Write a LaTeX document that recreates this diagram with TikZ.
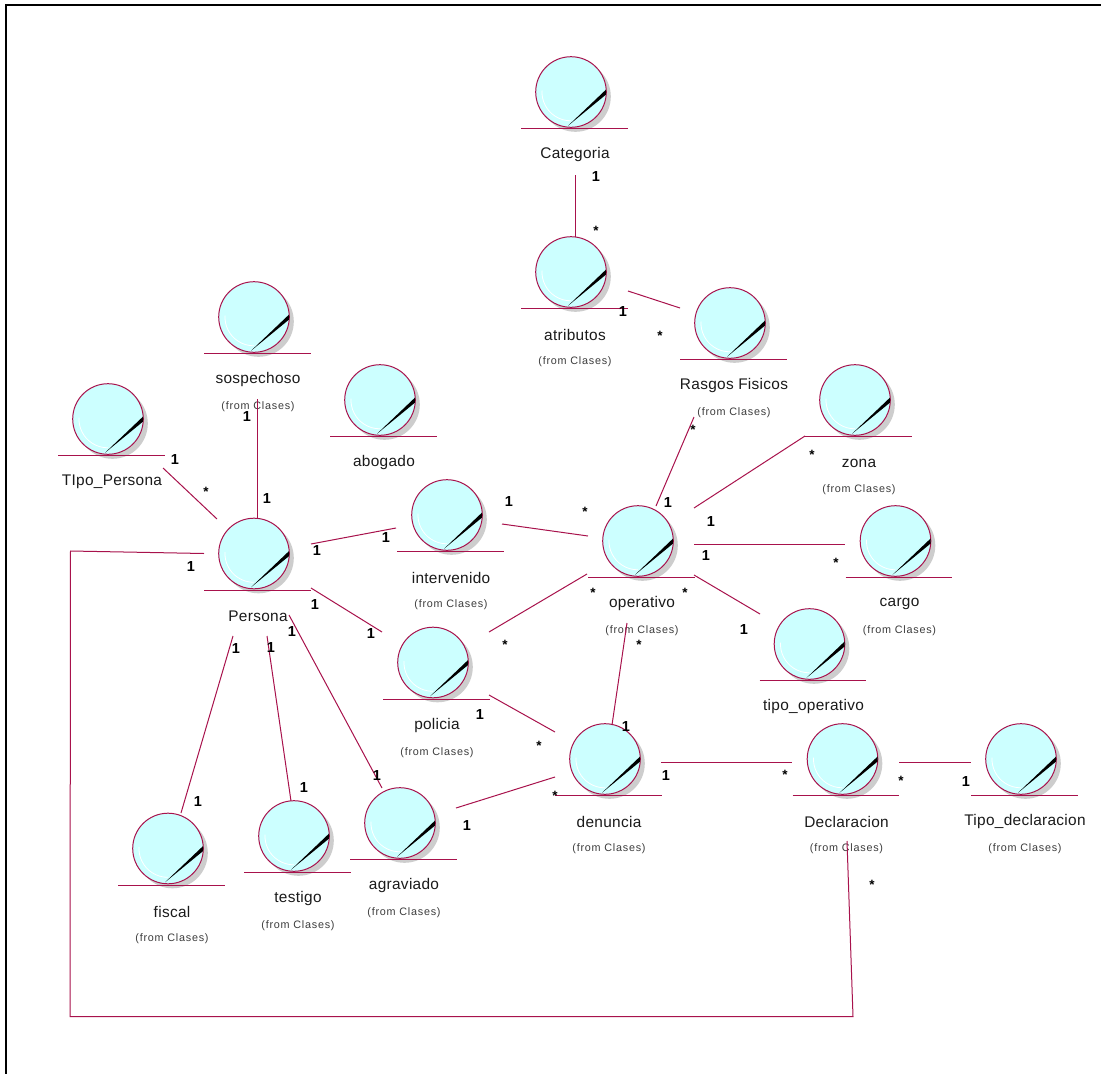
\documentclass[tikz,border=0pt]{standalone}
\usepackage{fontspec}
\setmainfont{Liberation Sans}
\newfontfamily\fromfont[LetterSpace=7]{Liberation Sans}
\newfontfamily\namefont[LetterSpace=2]{Liberation Sans}
\definecolor{rose}{HTML}{A8124C}
\definecolor{iconfill}{HTML}{CCFFFF}
\definecolor{iconshadow}{HTML}{CDCDCD}
\definecolor{inktext}{HTML}{1A1A1A}
\tikzset{
  classball/.style={circle,draw=rose,line width=1pt,fill=iconfill,minimum size=70.6pt,inner sep=0pt},
  classshadow/.style={fill=iconshadow,draw=none},
  classbase/.style={draw=rose,line width=1pt},
  classname/.style={inner sep=0pt,text=inktext,font=\namefont\fontsize{15.4}{18}\selectfont},
  classfrom/.style={inner sep=0pt,text=inktext!85,font=\fromfont\fontsize{10.8}{12}\selectfont},
  assoc/.style={draw=rose,line width=1pt},
  multone/.style={inner sep=0pt,font=\bfseries\fontsize{14.5}{16}\selectfont},
  multstar/.style={inner sep=0pt,font=\bfseries\fontsize{13.5}{15}\selectfont},
}
% name, cx, cy
\newcommand{\classicon}[3]{%
  \fill[classshadow] (#2+4.5,#3+4.5) circle (35.3);
  \draw[classbase] (#2-50,#3+36.5) -- (#2+56.5,#3+36.5);
  \node[classball] (#1) at (#2,#3) {};
  \fill[black] (#2-3,#3+33.8) -- (#2+35.2,#3-2.6) -- (#2+35,#3+2.6) -- cycle;
  \draw[white,line width=0.8pt] (#2-29,#3-1.5) arc[start angle=183,end angle=90,radius=28.8];
}
% name, cx, cy, text
\newcommand{\classlabel}[4]{\node[classname] (#1-name) at (#2+4,#3+63) {#4};}
\newcommand{\classorigin}[3]{\node[classfrom] (#1-from) at (#2+4,#3+90) {(from Clases)};}
\begin{document}
\begin{tikzpicture}[x=1pt,y=-1pt]
\useasboundingbox (0,0) rectangle (1101,1074);
\fill[white] (0,0) rectangle (1101,1074);
% frame
\coordinate (frameA) at (6,1074);
\coordinate (frameB) at (6,5);
\coordinate (frameC) at (1101,5);
\draw[black,line width=2pt] (frameA) -- (frameB) -- (frameC);
% classes
\classicon{Categoria}{571}{92}
\classicon{atributos}{571}{272}
\classicon{Rasgos}{730}{323}
\classicon{sospechoso}{254}{317}
\classicon{abogado}{380}{400}
\classicon{TipoPersona}{108}{419}
\classicon{zona}{855}{400}
\classicon{Persona}{254}{553.5}
\classicon{intervenido}{447}{515}
\classicon{operativo}{638}{541}
\classicon{cargo}{895.5}{541}
\classicon{tipooperativo}{809.5}{644}
\classicon{policia}{433}{662.5}
\classicon{denuncia}{605}{759}
\classicon{Declaracion}{842.5}{759}
\classicon{TipoDeclaracion}{1021}{759}
\classicon{fiscal}{168}{848.5}
\classicon{testigo}{294}{836}
\classicon{agraviado}{400}{823}
% labels
\classlabel{Categoria}{571}{92}{Categoria}
\classlabel{atributos}{571}{272}{atributos}\classorigin{atributos}{571}{272}
\classlabel{Rasgos}{730}{323}{Rasgos Fisicos}\classorigin{Rasgos}{730}{323}
\classlabel{sospechoso}{254}{317}{sospechoso}\classorigin{sospechoso}{254}{317}
\classlabel{abogado}{380}{400}{abogado}
\classlabel{TipoPersona}{108}{419}{TIpo\_Persona}
\classlabel{zona}{855}{400}{zona}\classorigin{zona}{855}{400}
\classlabel{Persona}{254}{553.5}{Persona}
\classlabel{intervenido}{447}{515}{intervenido}\classorigin{intervenido}{447}{515}
\classlabel{operativo}{638}{541}{operativo}\classorigin{operativo}{638}{541}
\classlabel{cargo}{895.5}{541}{cargo}\classorigin{cargo}{895.5}{541}
\classlabel{tipooperativo}{809.5}{644}{tipo\_operativo}
\classlabel{policia}{433}{662.5}{policia}\classorigin{policia}{433}{662.5}
\classlabel{denuncia}{605}{759}{denuncia}\classorigin{denuncia}{605}{759}
\classlabel{Declaracion}{842.5}{759}{Declaracion}\classorigin{Declaracion}{842.5}{759}
\classlabel{TipoDeclaracion}{1021}{759}{Tipo\_declaracion}\classorigin{TipoDeclaracion}{1021}{759}
\classlabel{fiscal}{168}{848.5}{fiscal}\classorigin{fiscal}{168}{848.5}
\classlabel{testigo}{294}{836}{testigo}\classorigin{testigo}{294}{836}
\classlabel{agraviado}{400}{823}{agraviado}\classorigin{agraviado}{400}{823}
% connector ends
\coordinate (catS) at (575,175);   \coordinate (atrN) at (575,237);
\coordinate (atrE) at (628,291);   \coordinate (rasW) at (680,308);
\coordinate (rasS) at (694,417);   \coordinate (opeN) at (656,506);
\coordinate (zonW) at (805,436);   \coordinate (opeNE) at (694,508);
\coordinate (opeE) at (694,544);   \coordinate (carW) at (845,544);
\coordinate (opeSE) at (694,575);  \coordinate (tipN) at (760,614);
\coordinate (intE) at (502,524);   \coordinate (opeW) at (588,536);
\coordinate (polNE) at (489,632);  \coordinate (opeSW) at (587,574);
\coordinate (opeS) at (627,623);   \coordinate (denN) at (612,725);
\coordinate (polSE) at (489,695);  \coordinate (denNW) at (555,732);
\coordinate (agrE) at (456,808);   \coordinate (denW) at (555,777);
\coordinate (denE) at (661,762);   \coordinate (decW) at (792,762);
\coordinate (decE) at (899,762);   \coordinate (tdeW) at (971,762);
\coordinate (decS) at (847,841);   \coordinate (loopA) at (853,1016.5);
\coordinate (loopB) at (70,1016.5); \coordinate (loopC) at (70.5,551);
\coordinate (perW) at (204,553.5);
\coordinate (sosS) at (257.5,399); \coordinate (perN) at (257.5,519);
\coordinate (tpeSE) at (163,468);  \coordinate (perNW) at (217,519);
\coordinate (perE) at (311,544);   \coordinate (intW) at (396,528);
\coordinate (perSE) at (311,588);  \coordinate (polNW) at (382,632);
\coordinate (perA) at (289,615);   \coordinate (agrN) at (382,788);
\coordinate (perB) at (267,636);   \coordinate (tesN) at (291,801);
\coordinate (perC) at (233,636);   \coordinate (fisN) at (181,813);
% connectors
\draw[assoc] (catS) -- (atrN);
\draw[assoc] (atrE) -- (rasW);
\draw[assoc] (rasS) -- (opeN);
\draw[assoc] (zonW) -- (opeNE);
\draw[assoc] (opeE) -- (carW);
\draw[assoc] (opeSE) -- (tipN);
\draw[assoc] (intE) -- (opeW);
\draw[assoc] (polNE) -- (opeSW);
\draw[assoc] (opeS) -- (denN);
\draw[assoc] (polSE) -- (denNW);
\draw[assoc] (agrE) -- (denW);
\draw[assoc] (denE) -- (decW);
\draw[assoc] (decE) -- (tdeW);
\draw[assoc] (decS) -- (loopA) -- (loopB) -- (loopC) -- (perW);
\draw[assoc] (sosS) -- (perN);
\draw[assoc] (tpeSE) -- (perNW);
\draw[assoc] (perE) -- (intW);
\draw[assoc] (perSE) -- (polNW);
\draw[assoc] (perA) -- (agrN);
\draw[assoc] (perB) -- (tesN);
\draw[assoc] (perC) -- (fisN);
% multiplicities
\node[multone] (m1) at (596,177) {1};
\node[multstar] (s1) at (596,231) {*};
\node[multone] (m2) at (623,312) {1};
\node[multstar] (s2) at (660,336) {*};
\node[multstar] (s3) at (693,430) {*};
\node[multstar] (s4) at (812,455) {*};
\node[multone] (m3) at (668,503) {1};
\node[multone] (m4) at (711,522) {1};
\node[multone] (m5) at (706,556) {1};
\node[multstar] (s5) at (836,563) {*};
\node[multstar] (s6) at (685,593) {*};
\node[multstar] (s7) at (593,593) {*};
\node[multstar] (s8) at (639,645) {*};
\node[multstar] (s9) at (505,645) {*};
\node[multone] (m6) at (744,630) {1};
\node[multone] (m7) at (509,502) {1};
\node[multstar] (s10) at (585,512) {*};
\node[multone] (m8) at (386,538) {1};
\node[multone] (m9) at (317,551) {1};
\node[multone] (m10) at (315,605) {1};
\node[multone] (m11) at (371,634) {1};
\node[multone] (m12) at (292,632) {1};
\node[multone] (m13) at (236,649) {1};
\node[multone] (m14) at (271,648) {1};
\node[multone] (m15) at (191,567) {1};
\node[multone] (m16) at (267,499) {1};
\node[multone] (m17) at (247,417) {1};
\node[multone] (m18) at (175,460) {1};
\node[multstar] (s11) at (206,492) {*};
\node[multone] (m19) at (198,802) {1};
\node[multone] (m20) at (304,788) {1};
\node[multone] (m21) at (377,776) {1};
\node[multone] (m22) at (480,715) {1};
\node[multstar] (s12) at (539,746) {*};
\node[multone] (m23) at (626,727) {1};
\node[multstar] (s13) at (555,796) {*};
\node[multone] (m24) at (467,826) {1};
\node[multone] (m25) at (666,776) {1};
\node[multstar] (s14) at (785,775) {*};
\node[multstar] (s15) at (901,781) {*};
\node[multone] (m26) at (966,782) {1};
\node[multstar] (s16) at (872,885) {*};
\end{tikzpicture}
\end{document}
